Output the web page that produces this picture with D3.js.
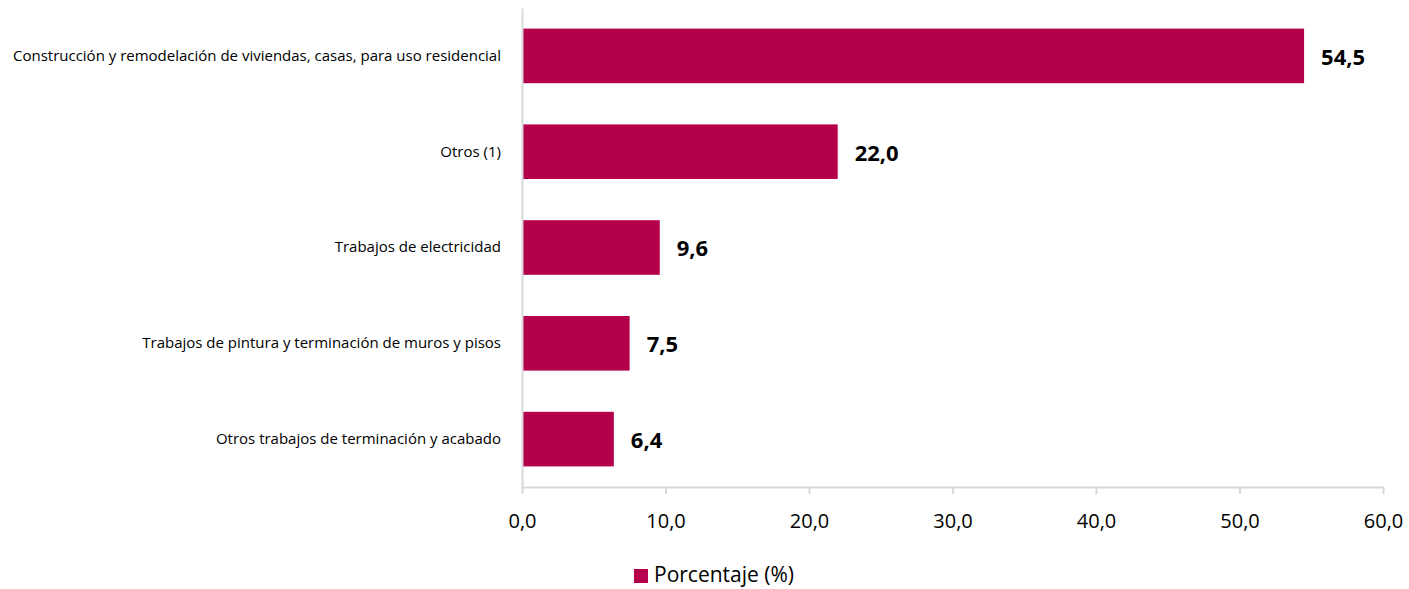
<!DOCTYPE html>
<html>
<head>
<meta charset="utf-8">
<script src="https://cdn.jsdelivr.net/npm/d3@7"></script>
<style>
  body { margin: 0; background: #fff; }
  svg { font-family: "Open Sans", "Noto Sans", sans-serif; }
</style>
</head>
<body>
<svg id="chart" width="1409" height="589"></svg>
<script>
// data
var categories = [
  "Construcción y remodelación de viviendas, casas, para uso residencial",
  "Otros (1)",
  "Trabajos de electricidad",
  "Trabajos de pintura y terminación de muros y pisos",
  "Otros trabajos de terminación y acabado"
];
var values = [54.5, 22.0, 9.6, 7.5, 6.4];
var xTicks = [0, 10, 20, 30, 40, 50, 60];
var seriesName = "Porcentaje (%)";

var barColor = "#b5004b",
    axisColor = "#d9d9d9";

var svg = d3.select("#chart");
var margin = {top: 8, right: 26, bottom: 102, left: 522};
var width = 1409 - margin.left - margin.right,
    height = 589 - margin.top - margin.bottom;

var fmt = function(v) { return d3.format(".1f")(v).replace(".", ","); };

var x = d3.scaleLinear().domain([0, 60]).range([0, width]);
var y = d3.scaleBand().domain(categories).range([0, height]).paddingInner(0.43).paddingOuter(0.215);

var g = svg.append("g").attr("transform", "translate(" + margin.left + "," + margin.top + ")");

// bars
g.selectAll(".bar")
    .data(values)
  .enter().append("rect")
    .attr("class", "bar")
    .attr("x", 0)
    .attr("y", function(d, i) { return y(categories[i]); })
    .attr("width", function(d) { return x(d); })
    .attr("height", y.bandwidth())
    .attr("fill", barColor);

// value labels
g.selectAll(".val")
    .data(values)
  .enter().append("text")
    .attr("class", "val")
    .attr("x", function(d) { return x(d) + 17; })
    .attr("y", function(d, i) { return y(categories[i]) + y.bandwidth() / 2; })
    .attr("dy", "0.4em")
    .attr("font-size", 22)
    .attr("font-weight", "bold")
    .attr("fill", "#000")
    .text(fmt);

// category axis
var yAxis = g.append("g").call(d3.axisLeft(y).tickSize(0).tickPadding(21));
yAxis.select(".domain").attr("stroke", axisColor).attr("stroke-width", 2);
yAxis.selectAll("text").attr("font-size", 15).attr("fill", "#000")
    .attr("font-family", "'Open Sans', 'Noto Sans', sans-serif");

// value axis
var xAxis = g.append("g")
    .attr("transform", "translate(0," + height + ")")
    .call(d3.axisBottom(x).tickValues(xTicks).tickFormat(fmt).tickSize(7).tickSizeOuter(0).tickPadding(20));
xAxis.select(".domain").attr("stroke", axisColor).attr("stroke-width", 2);
xAxis.selectAll(".tick line").attr("stroke", axisColor).attr("stroke-width", 2);
xAxis.selectAll("text").attr("font-size", 20).attr("fill", "#000")
    .attr("font-family", "'Open Sans', 'Noto Sans', sans-serif");

// legend
var legend = svg.append("g").attr("transform", "translate(634,569)");
legend.append("rect").attr("width", 14).attr("height", 14).attr("fill", barColor);
legend.append("text")
    .attr("x", 20).attr("y", 7).attr("dy", "0.3em")
    .attr("font-size", 21).attr("fill", "#000")
    .text(seriesName);
</script>
</body>
</html>
